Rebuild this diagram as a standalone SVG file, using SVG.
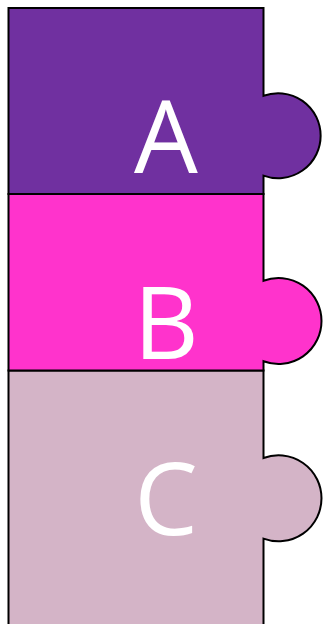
<svg xmlns="http://www.w3.org/2000/svg" width="325" height="624" viewBox="0 0 325 624">
<style>
.p{stroke:#000;stroke-width:2;stroke-linejoin:miter}
.t{font-family:"Open Sans","DejaVu Sans",sans-serif;font-size:101px;fill:#fff;text-anchor:middle}
</style>
<rect width="325" height="624" fill="#fff"/>
<g id="C">
<path class="p" fill="#D4B4C7" d="M8.5,370.5 H263.5 V458 A43,43 0 1 1 263.5,538.6 V630 H8.5 Z"/>
<text class="t" x="166" y="535">C</text>
</g>
<g id="B">
<path class="p" fill="#FF33CC" d="M8.5,194 H263.5 V280.7 A43,43 0 1 1 263.5,361.3 V370.5 H8.5 Z"/>
<text class="t" x="166" y="359">B</text>
</g>
<g id="A">
<path class="p" fill="#7030A0" d="M8.5,8 H263.5 V95.8 A42.5,42.5 0 1 1 263.5,175.6 V194 H8.5 Z"/>
<text class="t" x="166" y="173">A</text>
</g>
<g id="connectors"/>
</svg>
